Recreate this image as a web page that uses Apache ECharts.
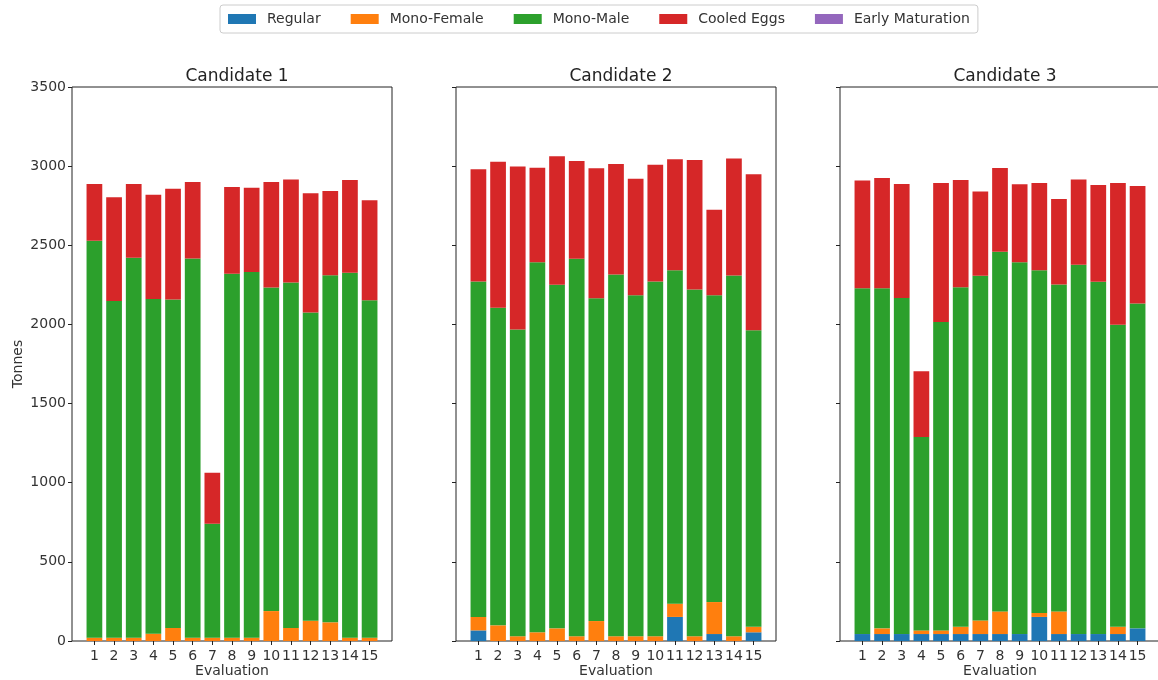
<!DOCTYPE html>
<html>
<head>
<meta charset="utf-8">
<script src="https://cdn.jsdelivr.net/npm/echarts@6/dist/echarts.min.js"></script>
<style>html,body{margin:0;padding:0;background:#fff}#c{width:1158px;height:680px}</style>
</head>
<body>
<div id="c"></div>
<script>
// ---- data ----
const categories = ['1','2','3','4','5','6','7','8','9','10','11','12','13','14','15'];
const seriesNames = ['Regular','Mono-Female','Mono-Male','Cooled Eggs','Early Maturation'];
const panelTitles = ['Candidate 1','Candidate 2','Candidate 3'];

const c1Regular    = [0,0,0,0,0,0,0,0,0,0,0,0,0,0,0];
const c1MonoFemale = [21,21,21,46,82,21,21,21,21,189,82,128,118,21,21];
const c1MonoMale   = [2508,2127,2400,2114,2076,2396,720,2299,2310,2045,2183,1948,2192,2306,2131];
const c1Cooled     = [358,656,466,659,699,483,322,548,533,666,650,752,533,585,633];
const c1Early      = [0,0,0,0,0,0,0,0,0,0,0,0,0,0,0];

const c2Regular    = [67,0,0,0,0,0,0,0,0,0,152,0,44,0,55];
const c2MonoFemale = [85,99,30,55,80,30,126,30,30,30,84,30,202,30,35];
const c2MonoMale   = [2119,2006,1938,2338,2170,2385,2040,2285,2155,2241,2107,2191,1939,2279,1873];
const c2Cooled     = [709,922,1029,597,812,618,820,699,735,738,700,818,540,740,985];
const c2Early      = [0,0,0,0,0,0,0,0,0,0,0,0,0,0,0];

const c3Regular    = [44,44,44,44,44,44,44,44,44,152,44,44,44,44,80];
const c3MonoFemale = [0,36,0,23,23,46,86,143,0,25,143,0,0,46,0];
const c3MonoMale   = [2184,2148,2123,1222,1948,2145,2177,2272,2349,2166,2065,2333,2226,1908,2053];
const c3Cooled     = [682,697,720,415,878,677,533,529,492,550,541,538,611,895,741];
const c3Early      = [0,0,0,0,0,0,0,0,0,0,0,0,0,0,0];

const panels = [
  [c1Regular, c1MonoFemale, c1MonoMale, c1Cooled, c1Early],
  [c2Regular, c2MonoFemale, c2MonoMale, c2Cooled, c2Early],
  [c3Regular, c3MonoFemale, c3MonoMale, c3Cooled, c3Early]
];

// ---- style / layout ----
const colors = ['#1f77b4','#ff7f0e','#2ca02c','#d62728','#9467bd'];
const font = 'DejaVu Sans';
const frameLefts = [72, 456, 840];
const frameWidth = 320;
const frameTop = 87, frameHeight = 554;
const xMin = -0.14, xMax = 16.14;           // matplotlib-style x limits (category units)
const unit = frameWidth / (xMax - xMin);

const chart = echarts.init(document.getElementById('c'), null, {renderer:'canvas'});

const grids = [], xAxes = [], yAxes = [], titles = [], series = [];

// frame grids (0..2): box, y ticks/labels, x axis name
for (let p = 0; p < 3; p++) {
  grids.push({left: frameLefts[p], top: frameTop, width: frameWidth, height: frameHeight,
    outerBoundsMode: 'none', containLabel: false,
    show: true, borderColor: '#222', borderWidth: 1, backgroundColor: 'transparent'});
  titles.push({text: panelTitles[p], left: frameLefts[p] + frameWidth/2, top: 63, textAlign: 'center',
    textStyle: {fontFamily: font, fontSize: 17, fontWeight: 'normal', color: '#222'}});
  xAxes.push({type: 'value', gridIndex: p, min: 0, max: 1,
    name: 'Evaluation', nameLocation: 'middle', nameGap: 23,
    nameTextStyle: {fontFamily: font, fontSize: 14, color: '#333'},
    axisLine: {show: false}, axisTick: {show: false}, axisLabel: {show: false}, splitLine: {show: false}});
  yAxes.push({type: 'value', gridIndex: p, min: 0, max: 3500, interval: 500,
    name: p === 0 ? 'Tonnes' : '', nameLocation: 'middle', nameGap: 47,
    nameTextStyle: {fontFamily: font, fontSize: 14, color: '#333'},
    axisLine: {show: false},
    axisTick: {show: true, length: 4, lineStyle: {color: '#222'}},
    axisLabel: {show: p === 0, margin: 6, fontFamily: font, fontSize: 14, color: '#333',
      formatter: v => String(v)},
    splitLine: {show: false}});
}
// data grids (3..5): category bands aligned to the frame's x limits
for (let p = 0; p < 3; p++) {
  const g = 3 + p;
  grids.push({left: frameLefts[p] + (0.5 - xMin) * unit, top: frameTop,
    width: categories.length * unit, height: frameHeight, show: false,
    outerBoundsMode: 'none', containLabel: false});
  xAxes.push({type: 'category', gridIndex: g, data: categories,
    axisLine: {show: false},
    axisTick: {show: true, alignWithLabel: true, length: 4, lineStyle: {color: '#222'}},
    axisLabel: {show: true, interval: 0, margin: 8, fontFamily: font, fontSize: 14, color: '#333'},
    splitLine: {show: false}});
  yAxes.push({type: 'value', gridIndex: g, min: 0, max: 3500, show: false, splitLine: {show: false}});
  for (let s = 0; s < seriesNames.length; s++) {
    series.push({
      type: 'bar', name: seriesNames[s], xAxisIndex: g, yAxisIndex: g,
      stack: 'panel' + p, barWidth: '80%',
      itemStyle: {color: colors[s]},
      emphasis: {disabled: true},
      data: panels[p][s]
    });
  }
}

chart.setOption({
  animation: false,
  color: colors,
  textStyle: {fontFamily: font},
  title: titles,
  legend: {
    data: seriesNames, top: 5, left: 220, icon: 'rect',
    itemWidth: 28, itemHeight: 10, itemGap: 30,
    padding: [7, 8], borderColor: '#ccc', borderWidth: 1, borderRadius: 3,
    textStyle: {fontFamily: font, fontSize: 14, color: '#333', padding: [0,0,0,6]}
  },
  grid: grids, xAxis: xAxes, yAxis: yAxes, series: series
});
</script>
</body>
</html>
